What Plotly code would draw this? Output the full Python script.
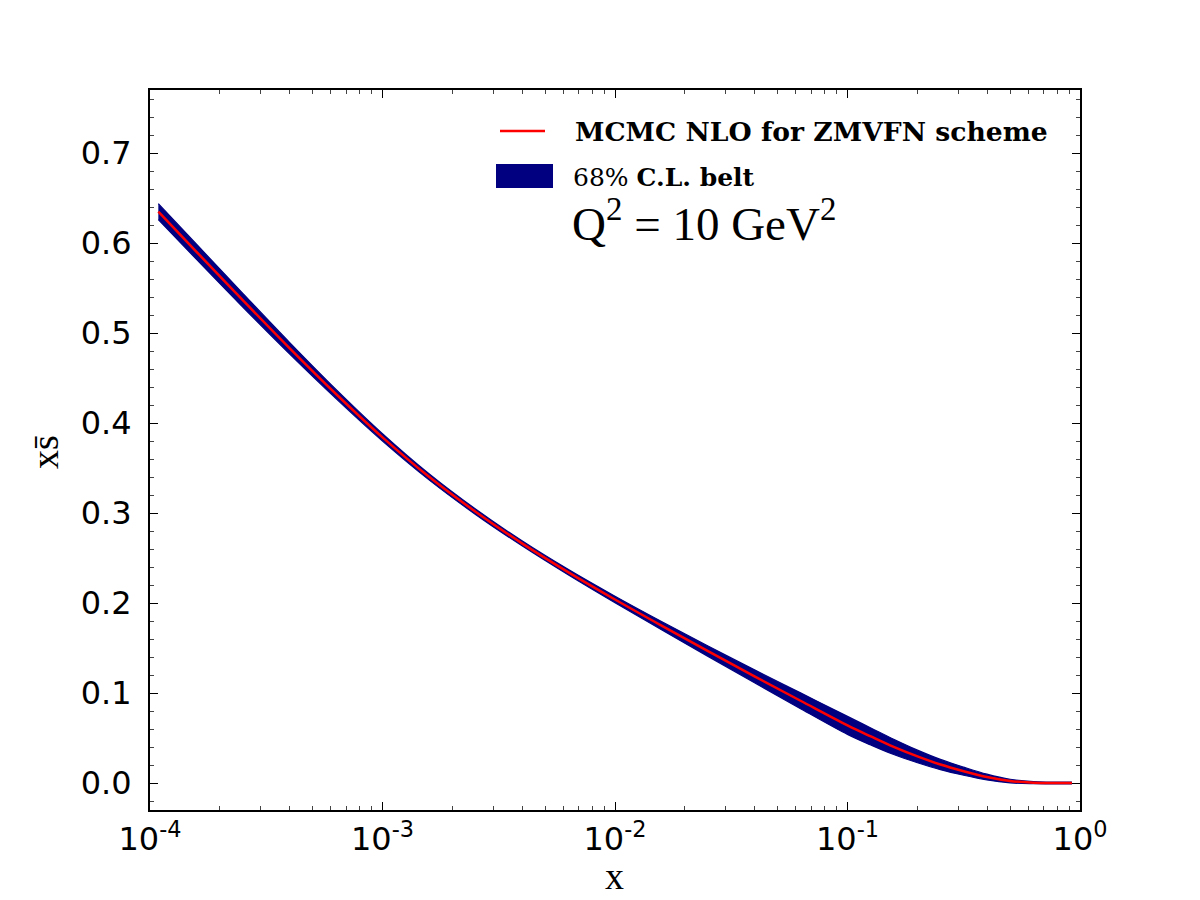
import plotly.graph_objects as go

# ---- data ----
x_vals = [1.086e-4, 1.585e-4, 2.512e-4, 3.981e-4, 6.31e-4, 1e-3, 1.585e-3, 2.512e-3,
          3.981e-3, 6.31e-3, 1e-2, 1.585e-2, 2.512e-2, 3.981e-2, 6.31e-2, 0.1, 0.126,
          0.158, 0.2, 0.251, 0.316, 0.398, 0.501, 0.631, 0.794, 0.923]
central = [0.6348, 0.5902, 0.5362, 0.4832, 0.4322, 0.3840, 0.3402, 0.3014,
           0.2663, 0.2341, 0.2039, 0.1749, 0.1465, 0.1185, 0.0911, 0.0640, 0.0517,
           0.0401, 0.0295, 0.0205, 0.0131, 0.0066, 0.0022, 0.0004, 0.0, 0.0]
half_width = [0.0089, 0.0084, 0.0076, 0.0064, 0.0051, 0.0041, 0.0034, 0.0030,
              0.0028, 0.0030, 0.0036, 0.0045, 0.0058, 0.0072, 0.0088, 0.0100, 0.0095,
              0.0085, 0.0070, 0.0057, 0.0045, 0.0032, 0.0020, 0.0012, 0.0010, 0.0010]
lower = [c - h for c, h in zip(central, half_width)]
upper = [c + h for c, h in zip(central, half_width)]

x_major = [1e-4, 1e-3, 1e-2, 1e-1, 1.0]
x_major_text = ["10<sup>-4</sup>", "10<sup>-3</sup>", "10<sup>-2</sup>", "10<sup>-1</sup>", "10<sup>0</sup>"]
x_minor = [k * 10.0 ** d for d in range(-4, 0) for k in range(2, 10)]

NAVY = "#000080"
RED = "#ff0000"

fig = go.Figure()
fig.add_trace(go.Scatter(x=x_vals, y=lower, mode="lines", line=dict(color=NAVY, width=1.2, shape="spline"),
                         showlegend=False, hoverinfo="skip"))
fig.add_trace(go.Scatter(x=x_vals, y=upper, mode="lines", line=dict(color=NAVY, width=1.2, shape="spline"),
                         fill="tonexty", fillcolor=NAVY, showlegend=False, hoverinfo="skip"))
fig.add_trace(go.Scatter(x=x_vals, y=central, mode="lines", line=dict(color=RED, width=2.5, shape="spline"),
                         showlegend=False))

W, H = 1200, 900
L, R, T, B = 150, 120, 90, 90
pw, ph = W - L - R, H - T - B

def px(xp):
    return (xp - L) / pw

def py(yp):
    return (H - B - yp) / ph

axis_common = dict(showline=True, linecolor="black", linewidth=2, mirror="allticks",
                   ticks="inside", ticklen=8, tickwidth=1, tickcolor="black",
                   showgrid=False, zeroline=False)

fig.update_layout(
    width=W, height=H,
    margin=dict(l=L, r=R, t=T, b=B, autoexpand=False),
    plot_bgcolor="white", paper_bgcolor="white",
    xaxis=dict(type="log", range=[-4, 0], tickvals=x_major, ticktext=x_major_text,
               tickfont=dict(family="DejaVu Sans", size=32, color="black"),
               ticklabelstandoff=0,
               minor=dict(tickvals=x_minor, ticks="inside", ticklen=4, tickwidth=1, tickcolor="#444"),
               **axis_common),
    yaxis=dict(range=[-0.03, 0.77], tick0=0, dtick=0.1, tickformat=".1f",
               tickfont=dict(family="DejaVu Sans", size=32, color="black"),
               ticklabelstandoff=10,
               minor=dict(dtick=0.02, ticks="inside", ticklen=4, tickwidth=1, tickcolor="#444"),
               **axis_common),
    showlegend=False,
)

# legend symbols
fig.add_shape(type="line", xref="paper", yref="paper", x0=px(500), x1=px(545), y0=py(131), y1=py(131),
              line=dict(color=RED, width=2.5))
fig.add_shape(type="rect", xref="paper", yref="paper", x0=px(496), x1=px(553), y0=py(188), y1=py(164),
              fillcolor=NAVY, line=dict(width=0))

serif_b = "DejaVu Serif"
serif = "Liberation Serif"
fig.add_annotation(xref="paper", yref="paper", x=px(573), y=py(131), xanchor="left", yanchor="middle",
                   text="<b>MCMC NLO for ZMVFN scheme</b>", showarrow=False,
                   font=dict(family=serif_b, size=26.6, color="black"))
fig.add_annotation(xref="paper", yref="paper", x=px(571), y=py(177), xanchor="left", yanchor="middle",
                   text="68% <b>C.L. belt</b>", showarrow=False,
                   font=dict(family=serif_b, size=25, color="black"))
fig.add_annotation(xref="paper", yref="paper", x=px(570), y=py(220), xanchor="left", yanchor="middle",
                   text="Q<sup>2</sup> = 10 GeV<sup>2</sup>", showarrow=False,
                   font=dict(family=serif, size=47, color="black"))

# axis titles
fig.add_annotation(xref="paper", yref="paper", x=px(614), y=py(899), xanchor="center", yanchor="bottom",
                   text="x", showarrow=False, font=dict(family=serif, size=38, color="black"))
fig.add_annotation(xref="paper", yref="paper", x=px(45), y=py(452), xanchor="center", yanchor="middle",
                   text="xs\u0304", textangle=-90, showarrow=False, font=dict(family=serif, size=38, color="black"))

fig.write_html("out.html")
